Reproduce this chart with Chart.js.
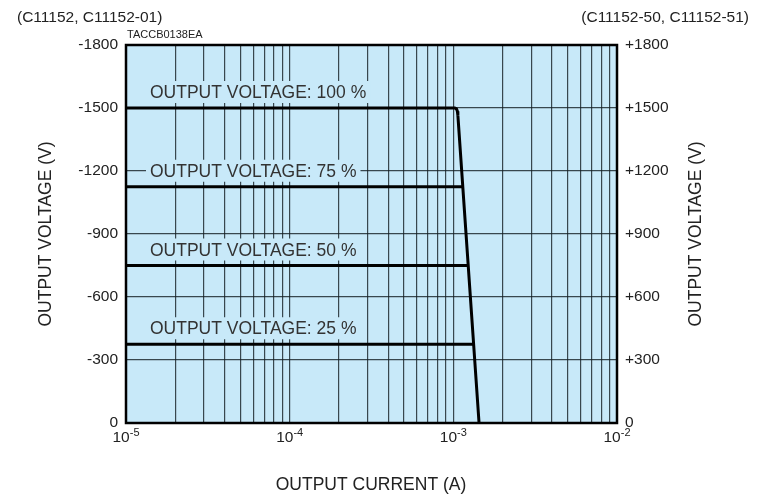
<!DOCTYPE html>
<html>
<head>
<meta charset="utf-8">
<script src="https://cdn.jsdelivr.net/npm/chart.js@4.4.1/dist/chart.umd.min.js"></script>
<style>
  html, body { margin: 0; padding: 0; background: #ffffff; }
  #wrap { width: 766px; height: 497px; }
</style>
</head>
<body>
<div id="wrap"><canvas id="grafica" width="766" height="497"></canvas></div>
<script>
// curve data (current in A, voltage in V)
const curve100Current = [1e-5, 1.02e-3, 1.045e-3, 1.058e-3, 1.066e-3, 1.436e-3];
const curve100Voltage = [1500, 1500, 1496, 1485, 1465, 0];
const curve75Current = [1e-5, 1.143e-3];
const curve75Voltage = [1125, 1125];
const curve50Current = [1e-5, 1.233e-3];
const curve50Voltage = [750, 750];
const curve25Current = [1e-5, 1.328e-3];
const curve25Voltage = [375, 375];

const levelLabels = ['OUTPUT VOLTAGE: 100 %', 'OUTPUT VOLTAGE: 75 %', 'OUTPUT VOLTAGE: 50 %', 'OUTPUT VOLTAGE: 25 %'];
const levelVoltages = [1500, 1125, 750, 375];

const decadeValues = [1e-5, 1e-4, 1e-3, 1e-2];
const decadeExponents = ['-5', '-4', '-3', '-2'];
const voltageTicks = [0, 300, 600, 900, 1200, 1500, 1800];

const TEXT = '#222';
const PLOT_BG = '#c8e9f9';
const FONT = '"Liberation Sans", Arial, Helvetica, sans-serif';

function toPoints(xs, ys) {
    return xs.map((x, i) => ({ x: x, y: ys[i] }));
}

function lineSet(xs, ys) {
    return {
        data: toPoints(xs, ys),
        showLine: true,
        borderColor: '#000',
        borderWidth: 3,
        pointRadius: 0,
        fill: false
    };
}

// grid values 1..9 x each decade
const gridValues = [];
for (let d = 0; d < decadeValues.length - 1; d++) {
    for (let m = 1; m < 10; m++) gridValues.push(m * decadeValues[d]);
}
gridValues.push(decadeValues[decadeValues.length - 1]);

const decorPlugin = {
    id: 'decor',
    beforeDraw(chart) {
        const a = chart.chartArea;
        const ctx = chart.ctx;
        ctx.save();
        ctx.fillStyle = PLOT_BG;
        ctx.fillRect(a.left, a.top, a.right - a.left, a.bottom - a.top);
        ctx.restore();
    },
    afterDatasetsDraw(chart) {
        const ctx = chart.ctx;
        const ys = chart.scales.y;
        ctx.save();
        ctx.font = '17.5px ' + FONT;
        ctx.textAlign = 'left';
        ctx.textBaseline = 'alphabetic';
        levelLabels.forEach((t, i) => {
            const base = ys.getPixelForValue(levelVoltages[i]) - 10;
            const w = ctx.measureText(t).width;
            // label box hides the grid behind the text
            ctx.fillStyle = PLOT_BG;
            ctx.fillRect(146, base - 17, w + 8, 22);
            ctx.fillStyle = '#333';
            ctx.fillText(t, 150, base);
        });
        ctx.restore();
    },
    afterDraw(chart) {
        const a = chart.chartArea;
        const ctx = chart.ctx;
        const xs = chart.scales.x;
        ctx.save();
        // frame
        ctx.strokeStyle = '#000';
        ctx.lineWidth = 2.5;
        ctx.strokeRect(a.left, a.top, a.right - a.left, a.bottom - a.top);

        ctx.fillStyle = TEXT;
        // x tick labels 10^n
        decadeValues.forEach((v, i) => {
            const px = xs.getPixelForValue(v);
            ctx.font = '15.5px ' + FONT;
            const wb = ctx.measureText('10').width;
            ctx.font = '11px ' + FONT;
            const we = ctx.measureText(decadeExponents[i]).width;
            const x0 = px - (wb + we) / 2;
            ctx.textAlign = 'left';
            ctx.textBaseline = 'alphabetic';
            ctx.font = '15.5px ' + FONT;
            ctx.fillText('10', x0, a.bottom + 19);
            ctx.font = '11px ' + FONT;
            ctx.fillText(decadeExponents[i], x0 + wb, a.bottom + 13);
        });

        // headers
        ctx.font = '15.5px ' + FONT;
        ctx.textAlign = 'left';
        ctx.fillText('(C11152, C11152-01)', 17, 22);
        ctx.textAlign = 'right';
        ctx.fillText('(C11152-50, C11152-51)', 749, 22);
        ctx.font = '11px ' + FONT;
        ctx.textAlign = 'left';
        ctx.fillText('TACCB0138EA', 127, 38);

        // axis titles
        ctx.font = '17.5px ' + FONT;
        ctx.textAlign = 'center';
        ctx.textBaseline = 'middle';
        ctx.fillText('OUTPUT CURRENT (A)', 371, 485);
        const midY = (a.top + a.bottom) / 2;
        ctx.save();
        ctx.translate(46, midY);
        ctx.rotate(-Math.PI / 2);
        ctx.fillText('OUTPUT VOLTAGE (V)', 0, 0);
        ctx.restore();
        ctx.save();
        ctx.translate(696, midY);
        ctx.rotate(-Math.PI / 2);
        ctx.fillText('OUTPUT VOLTAGE (V)', 0, 0);
        ctx.restore();
        ctx.restore();
    }
};

const ctx = document.getElementById('grafica').getContext('2d');
new Chart(ctx, {
    type: 'scatter',
    data: {
        datasets: [
            lineSet(curve100Current, curve100Voltage),
            lineSet(curve75Current, curve75Voltage),
            lineSet(curve50Current, curve50Voltage),
            lineSet(curve25Current, curve25Voltage)
        ]
    },
    options: {
        responsive: false,
        animation: false,
        devicePixelRatio: 1,
        layout: { padding: { top: 45, left: 0, right: 0, bottom: 0 } },
        plugins: {
            legend: { display: false },
            tooltip: { enabled: false }
        },
        scales: {
            x: {
                type: 'logarithmic',
                min: 1e-5,
                max: 1e-2,
                border: { display: false },
                grid: { color: 'rgba(20,30,35,0.8)', lineWidth: 1.2, drawTicks: false },
                ticks: { display: false },
                afterBuildTicks: (scale) => { scale.ticks = gridValues.map(v => ({ value: v })); },
                afterFit: (scale) => { scale.height = 74; }
            },
            y: {
                position: 'left',
                min: 0,
                max: 1800,
                border: { display: false },
                grid: { color: 'rgba(20,30,35,0.8)', lineWidth: 1.2, drawTicks: false },
                afterBuildTicks: (scale) => { scale.ticks = voltageTicks.map(v => ({ value: v })); },
                ticks: {
                    padding: 8,
                    color: TEXT,
                    font: { family: FONT, size: 15.5 },
                    callback: (v) => v === 0 ? '0' : '-' + v
                },
                afterFit: (scale) => { scale.width = 126; }
            },
            y2: {
                position: 'right',
                min: 0,
                max: 1800,
                border: { display: false },
                grid: { display: false, drawTicks: false },
                afterBuildTicks: (scale) => { scale.ticks = voltageTicks.map(v => ({ value: v })); },
                ticks: {
                    padding: 8,
                    color: TEXT,
                    font: { family: FONT, size: 15.5 },
                    callback: (v) => v === 0 ? '0' : '+' + v
                },
                afterFit: (scale) => { scale.width = 149; }
            }
        }
    },
    plugins: [decorPlugin]
});
</script>
</body>
</html>
